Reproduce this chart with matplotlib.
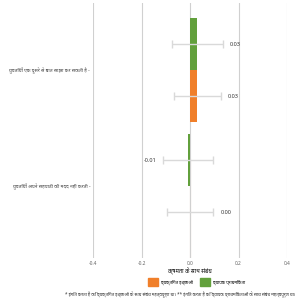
import numpy as np
import matplotlib.pyplot as plt

categories = ['युवतियाँ एक दूसरे से बात साझा कर सकती है -',
              'युवतियाँ अपने सहपाठी की मदद नहीं करती -']
green_vals = [0.03, -0.01]
orange_vals = [0.03, 0.00]
green_err = [0.105, 0.103]
orange_err = [0.097, 0.095]
series_names = ['व्यक्तिगत इच्छाओं', 'व्यापक प्राथमिकता']
xticks = [-0.4, -0.2, 0.0, 0.2, 0.4]
xlabel = 'क्षमता के साथ संबंध'
footer = ('* इंगित करता है कि व्यक्तिगत इच्छाओं के साथ संबंध महत्वपूर्ण था। '
          '** इंगित करता है कि व्यापक प्राथमिकताओं के साथ संबंध महत्वपूर्ण था।')

plt.rcParams['font.family'] = ['Noto Sans', 'DejaVu Sans']

fig = plt.figure(figsize=(3, 3), dpi=100)
ax = fig.add_axes([0.31, 0.14, 0.647, 0.85])

orange = '#f07f2a'
green = '#62a03c'
errc = '#d9d9d9'

y = np.arange(len(categories))
h = 0.45
ax.barh(y - h / 2, green_vals, height=h, color=green, zorder=3)
ax.barh(y + h / 2, orange_vals, height=h, color=orange, zorder=3)
ax.errorbar(green_vals, y - h / 2, xerr=green_err, fmt='none', ecolor=errc,
            elinewidth=1, capsize=3, capthick=1, zorder=4)
ax.errorbar(orange_vals, y + h / 2, xerr=orange_err, fmt='none', ecolor=errc,
            elinewidth=1, capsize=3, capthick=1, zorder=4)

def label(v, e, yy):
    if v < 0:
        ax.text(v - e - 0.025, yy, f'{v:.2f}', fontsize=4, va='center', ha='right', color='#333333')
    else:
        ax.text(v + e + 0.03, yy, f'{v:.2f}', fontsize=4, va='center', color='#333333')

for v, e, yy in zip(green_vals, green_err, y - h / 2):
    label(v, e, yy)
for v, e, yy in zip(orange_vals, orange_err, y + h / 2):
    label(v, e, yy)

ax.set_xlim(-0.4, 0.4)
ax.set_ylim(1.62, -0.58)
ax.set_xticks(xticks)
ax.set_xticklabels([f'{t:.1f}' for t in xticks], fontsize=3.5, color='#666666')
ax.set_yticks(y)
ax.set_yticklabels(categories, fontsize=3.5, color='#444444')
ax.tick_params(length=0, pad=2)
ax.grid(axis='x', color='#d0d0d0', lw=0.8, zorder=0)
ax.plot([0, 0], [0.77, 1.62], color='#dcc2a6', lw=0.8, zorder=1)
for s in ax.spines.values():
    s.set_visible(False)
ax.set_xlabel(xlabel, fontsize=4, labelpad=1)

handles = [plt.Rectangle((0, 0), 1, 1, color=orange),
           plt.Rectangle((0, 0), 1, 1, color=green)]
fig.legend(handles, series_names, loc='center', bbox_to_anchor=(0.655, 0.06),
           ncol=2, frameon=False, fontsize=3.2, handlelength=2.25, handleheight=2.25,
           handletextpad=0.7, columnspacing=1.6)
fig.text(0.6, 0.017, footer, fontsize=3.2, ha='center', va='center', color='#333333')

fig.savefig('out.png', dpi=100)
